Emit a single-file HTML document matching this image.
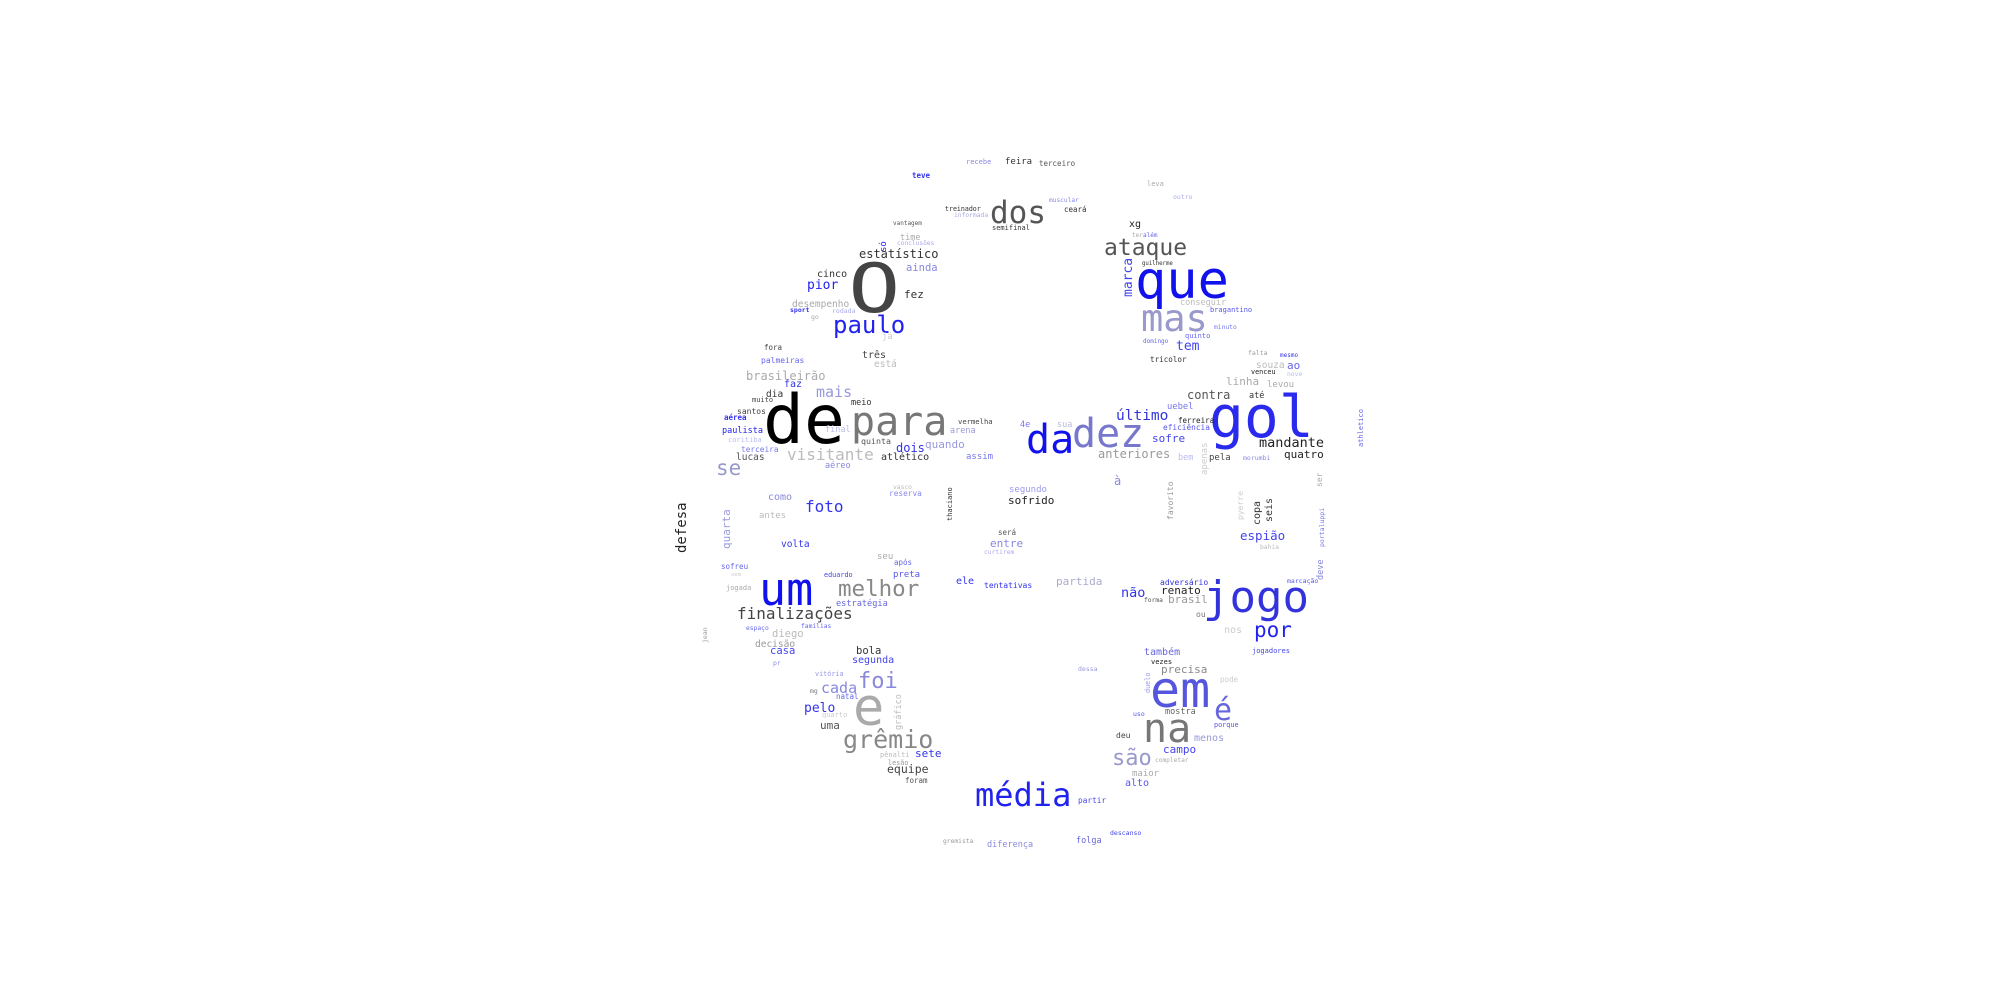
<!DOCTYPE html>
<html><head><meta charset="utf-8"><style>
html,body{margin:0;padding:0;background:#fff;}
svg{display:block;}
text{font-family:"DejaVu Sans Mono","Liberation Mono",monospace;}
</style></head><body>
<svg width="2000" height="1000" viewBox="0 0 2000 1000">
<g>
<text transform="translate(852,312) scale(1.27,1)" x="-3" y="0" font-size="68" fill="#444">O</text>
<text x="833" y="333" font-size="24" fill="#2222ee">paulo</text>
<text x="763" y="443" font-size="68" fill="#000">de</text>
<text x="851" y="435" font-size="40" fill="#777">para</text>
<text x="716" y="475" font-size="21" fill="#9999cc">se</text>
<text x="787" y="460" font-size="16" fill="#bbb">visitante</text>
<text x="816" y="397" font-size="15" fill="#9999dd">mais</text>
<text x="746" y="380" font-size="12" fill="#aaa">brasileirão</text>
<text x="859" y="258" font-size="12" fill="#333">estatístico</text>
<text x="807" y="289" font-size="13" fill="#2222ee">pior</text>
<text x="817" y="277" font-size="10" fill="#333">cinco</text>
<text x="906" y="271" font-size="10.5" fill="#8888dd">ainda</text>
<text x="904" y="298" font-size="11" fill="#333">fez</text>
<text x="792" y="307" font-size="9.5" fill="#aaa">desempenho</text>
<text x="790" y="312" font-size="6.5" fill="#3333ee" font-weight="bold">sport</text>
<text x="832" y="313" font-size="6.5" fill="#aaaaee">rodada</text>
<text x="811" y="319" font-size="6.5" fill="#aaa">go</text>
<text x="882" y="339" font-size="9" fill="#ccc">já</text>
<text transform="translate(886,252) rotate(-90)" font-size="9" fill="#2222ee">só</text>
<text x="900" y="240" font-size="8.5" fill="#aaa">time</text>
<text x="897" y="245" font-size="6.2" fill="#aaaaee">conclusões</text>
<text x="893" y="225" font-size="6" fill="#555">vantagem</text>
<text x="945" y="211" font-size="6.6" fill="#333">treinador</text>
<text x="954" y="217" font-size="6.3" fill="#aaaadd">informada</text>
<text x="990" y="223" font-size="31" fill="#555">dos</text>
<text x="992" y="230" font-size="7" fill="#333">semifinal</text>
<text x="966" y="164" font-size="7" fill="#8888dd">recebe</text>
<text x="1005" y="164" font-size="9" fill="#333">feira</text>
<text x="912" y="178" font-size="7.5" fill="#3333ee" font-weight="bold">teve</text>
<text x="1039" y="166" font-size="7.5" fill="#555">terceiro</text>
<text x="1147" y="186" font-size="7" fill="#aaa">leva</text>
<text x="1173" y="199" font-size="6.5" fill="#aaaaee">outro</text>
<text x="1049" y="202" font-size="6.2" fill="#8888ee">muscular</text>
<text x="1064" y="212" font-size="7.5" fill="#333">ceará</text>
<text x="1129" y="227" font-size="10" fill="#222">xg</text>
<text x="1132" y="237" font-size="6" fill="#aaa">ter</text>
<text x="1143" y="237" font-size="6" fill="#6666ee">além</text>
<text x="1104" y="255" font-size="23" fill="#555">ataque</text>
<text x="1142" y="265" font-size="5.7" fill="#333">guilherme</text>
<text transform="translate(1132,297) rotate(-90)" font-size="13" fill="#4444ee">marca</text>
<text x="1135" y="298" font-size="52" fill="#1111ee">que</text>
<text x="1141" y="331" font-size="37" fill="#9999cc">mas</text>
<text x="1180" y="305" font-size="8.5" fill="#bbb">conseguir</text>
<text x="1210" y="312" font-size="7" fill="#5555ee">bragantino</text>
<text x="1214" y="329" font-size="6.3" fill="#7777ee">minuto</text>
<text x="1185" y="338" font-size="7" fill="#6666ee">quinto</text>
<text x="1143" y="343" font-size="6" fill="#6666ee">domingo</text>
<text x="1176" y="350" font-size="13" fill="#4444ee">tem</text>
<text x="1150" y="362" font-size="7.6" fill="#333">tricolor</text>
<text x="1248" y="355" font-size="6.5" fill="#999">falta</text>
<text x="1280" y="357" font-size="6" fill="#3333ee">mesmo</text>
<text x="1256" y="368" font-size="9.5" fill="#bbb">souza</text>
<text x="1287" y="369" font-size="11" fill="#6666ee">ao</text>
<text x="1251" y="374" font-size="6.8" fill="#222">venceu</text>
<text x="1287" y="376" font-size="6.3" fill="#bbbbee">nove</text>
<text x="1226" y="385" font-size="11" fill="#aaa">linha</text>
<text x="1267" y="387" font-size="9" fill="#aaa">levou</text>
<text x="1187" y="399" font-size="12" fill="#555">contra</text>
<text x="1249" y="398" font-size="8.5" fill="#333">até</text>
<text x="1209" y="437" font-size="58" fill="#2a2aee">gol</text>
<text x="1116" y="420" font-size="14.5" fill="#3333dd">último</text>
<text x="1167" y="409" font-size="8.8" fill="#7777ee">uebel</text>
<text x="1178" y="423" font-size="7.5" fill="#222">ferreira</text>
<text x="1163" y="430" font-size="7.8" fill="#5555ee">eficiência</text>
<text x="1072" y="447" font-size="40" fill="#7777cc">dez</text>
<text x="1026" y="453" font-size="40" fill="#1111ee">da</text>
<text x="1020" y="427" font-size="8.5" fill="#7777ee">4e</text>
<text x="1057" y="427" font-size="8.5" fill="#bbbbdd">sua</text>
<text x="1152" y="442" font-size="11" fill="#4444ee">sofre</text>
<text x="1259" y="447" font-size="13.5" fill="#222">mandante</text>
<text x="1098" y="458" font-size="12" fill="#999">anteriores</text>
<text x="1178" y="460" font-size="8.5" fill="#bbbbee">bem</text>
<text x="1209" y="460" font-size="9" fill="#444">pela</text>
<text x="1243" y="460" font-size="6.5" fill="#8888ee">morumbi</text>
<text x="1284" y="458" font-size="11" fill="#222">quatro</text>
<text transform="translate(1207,475) rotate(-90)" font-size="9" fill="#ccc">apenas</text>
<text transform="translate(1363,447) rotate(-90)" font-size="7" fill="#6666ee">athletico</text>
<text transform="translate(1322,487) rotate(-90)" font-size="8" fill="#aaa">ser</text>
<text x="1114" y="485" font-size="12" fill="#8888dd">à</text>
<text transform="translate(1173,520) rotate(-90)" font-size="8" fill="#999">favorito</text>
<text transform="translate(1243,520) rotate(-90)" font-size="8" fill="#ccc">pyerre</text>
<text transform="translate(1260,525) rotate(-90)" font-size="10" fill="#333">copa</text>
<text transform="translate(1272,522) rotate(-90)" font-size="10" fill="#333">seis</text>
<text transform="translate(1324,547) rotate(-90)" font-size="6.5" fill="#7777ee">portaluppi</text>
<text x="1240" y="540" font-size="12.5" fill="#4444ee">espião</text>
<text x="1260" y="549" font-size="6.3" fill="#bbb">bahia</text>
<text transform="translate(1323,580) rotate(-90)" font-size="8.5" fill="#8888dd">deve</text>
<text x="1287" y="583" font-size="6.5" fill="#5555ee">marcação</text>
<text x="1160" y="585" font-size="8" fill="#3333dd">adversário</text>
<text x="1203" y="612" font-size="44" fill="#3333dd">jogo</text>
<text x="1121" y="597" font-size="13.5" fill="#3333ee">não</text>
<text x="1161" y="594" font-size="11" fill="#222">renato</text>
<text x="1144" y="602" font-size="6.3" fill="#555">forma</text>
<text x="1168" y="603" font-size="11" fill="#999">brasil</text>
<text x="1196" y="617" font-size="8" fill="#777">ou</text>
<text x="1224" y="633" font-size="10" fill="#ccc">nos</text>
<text x="1254" y="637" font-size="21" fill="#2222ee">por</text>
<text x="1144" y="655" font-size="10" fill="#6666dd">também</text>
<text x="1252" y="653" font-size="7" fill="#4444dd">jogadores</text>
<text x="1151" y="664" font-size="7" fill="#222">vezes</text>
<text x="1161" y="673" font-size="11" fill="#888">precisa</text>
<text x="1220" y="682" font-size="7.5" fill="#ccc">pode</text>
<text x="1078" y="671" font-size="6.5" fill="#9999dd">dessa</text>
<text transform="translate(1150,693) rotate(-90)" font-size="6.8" fill="#9999ee">duelo</text>
<text x="1150" y="707" font-size="50" fill="#5555dd">em</text>
<text x="1214" y="720" font-size="30" fill="#6666dd">é</text>
<text x="1165" y="714" font-size="8.5" fill="#666">mostra</text>
<text x="1133" y="716" font-size="6.5" fill="#5555ee">uso</text>
<text x="1214" y="727" font-size="6.8" fill="#5555ee">porque</text>
<text x="1143" y="742" font-size="40" fill="#777">na</text>
<text x="1194" y="741" font-size="10" fill="#9999dd">menos</text>
<text x="1116" y="738" font-size="8" fill="#444">deu</text>
<text x="1163" y="753" font-size="11" fill="#4444ee">campo</text>
<text x="1112" y="765" font-size="22" fill="#9999cc">são</text>
<text x="1155" y="762" font-size="6.2" fill="#aaa">completar</text>
<text x="1132" y="776" font-size="9" fill="#aaa">maior</text>
<text x="1125" y="786" font-size="10" fill="#5555ee">alto</text>
<text x="975" y="806" font-size="32" fill="#2222ee">média</text>
<text x="1078" y="803" font-size="7.8" fill="#4444ee">partir</text>
<text x="1110" y="835" font-size="6.5" fill="#4444ee">descanso</text>
<text x="1076" y="843" font-size="8.5" fill="#6666dd">folga</text>
<text x="987" y="847" font-size="8.5" fill="#8888dd">diferença</text>
<text x="943" y="843" font-size="6.3" fill="#999">gremista</text>
<text x="958" y="424" font-size="7.2" fill="#444">vermelha</text>
<text x="950" y="433" font-size="8.5" fill="#9999dd">arena</text>
<text x="861" y="444" font-size="8.3" fill="#555">quinta</text>
<text x="825" y="432" font-size="8.5" fill="#bbbbee">final</text>
<text x="896" y="452" font-size="12" fill="#3333ee">dois</text>
<text x="925" y="448" font-size="11" fill="#9999dd">quando</text>
<text x="881" y="460" font-size="10" fill="#333">atlético</text>
<text x="966" y="459" font-size="9" fill="#7777ee">assim</text>
<text x="893" y="489" font-size="6.3" fill="#bbb">vasco</text>
<text x="889" y="496" font-size="7.8" fill="#8888ee">reserva</text>
<text transform="translate(952,521) rotate(-90)" font-size="7" fill="#333">thaciano</text>
<text x="1009" y="492" font-size="9" fill="#9999ee">segundo</text>
<text x="1008" y="504" font-size="11" fill="#222">sofrido</text>
<text x="998" y="535" font-size="7.5" fill="#555">será</text>
<text x="990" y="547" font-size="11" fill="#8888dd">entre</text>
<text x="984" y="554" font-size="6.3" fill="#aaaaee">curtirem</text>
<text x="877" y="559" font-size="9" fill="#aaa">seu</text>
<text x="894" y="565" font-size="7.5" fill="#6666ee">após</text>
<text x="893" y="577" font-size="9" fill="#5555ee">preta</text>
<text x="956" y="584" font-size="10" fill="#3333ee">ele</text>
<text x="984" y="588" font-size="8" fill="#3333ee">tentativas</text>
<text x="1056" y="585" font-size="11" fill="#aaaacc">partida</text>
<text x="764" y="350" font-size="7.5" fill="#444">fora</text>
<text x="761" y="363" font-size="8" fill="#6666ee">palmeiras</text>
<text x="862" y="358" font-size="10" fill="#444">três</text>
<text x="874" y="367" font-size="9.5" fill="#bbb">está</text>
<text x="784" y="387" font-size="10" fill="#3333ee">faz</text>
<text x="766" y="397" font-size="9.5" fill="#333">dia</text>
<text x="752" y="402" font-size="7" fill="#444">muito</text>
<text x="851" y="405" font-size="8.5" fill="#333">meio</text>
<text x="737" y="414" font-size="8" fill="#444">santos</text>
<text x="724" y="420" font-size="7.5" fill="#3333ee" font-weight="bold">aérea</text>
<text x="722" y="433" font-size="8.5" fill="#2222ee">paulista</text>
<text x="728" y="442" font-size="7" fill="#bbbbee">coritiba</text>
<text x="741" y="452" font-size="7.8" fill="#7777ee">terceira</text>
<text x="736" y="460" font-size="9.5" fill="#555">lucas</text>
<text x="825" y="468" font-size="8.5" fill="#8888dd">aéreo</text>
<text x="768" y="500" font-size="10" fill="#8888dd">como</text>
<text x="805" y="512" font-size="16" fill="#3333ee">foto</text>
<text x="759" y="518" font-size="9" fill="#bbb">antes</text>
<text transform="translate(686,553) rotate(-90)" font-size="14" fill="#222">defesa</text>
<text transform="translate(730,549) rotate(-90)" font-size="11" fill="#9999dd">quarta</text>
<text x="781" y="547" font-size="9.5" fill="#3333ee">volta</text>
<text x="721" y="569" font-size="7.5" fill="#6666ee">sofreu</text>
<text x="731" y="576" font-size="5.5" fill="#ccc">sem</text>
<text x="726" y="590" font-size="7" fill="#aaa">jogada</text>
<text x="824" y="577" font-size="6.8" fill="#4444ee">eduardo</text>
<text x="759" y="605" font-size="45" fill="#1111ee">um</text>
<text x="838" y="596" font-size="22.5" fill="#888">melhor</text>
<text x="836" y="606" font-size="8.6" fill="#6666dd">estratégia</text>
<text x="737" y="619" font-size="16" fill="#444">finalizações</text>
<text x="746" y="630" font-size="6.3" fill="#6666ee">espaço</text>
<text x="801" y="628" font-size="6.3" fill="#6666ee">famílias</text>
<text x="772" y="637" font-size="10.5" fill="#bbb">diego</text>
<text transform="translate(707,643) rotate(-90)" font-size="6.5" fill="#999">jean</text>
<text x="755" y="647" font-size="9.5" fill="#999">decisão</text>
<text x="770" y="654" font-size="10.5" fill="#4444ee">casa</text>
<text x="856" y="654" font-size="10.5" fill="#333">bola</text>
<text x="852" y="663" font-size="10" fill="#4444ee">segunda</text>
<text x="773" y="665" font-size="6.5" fill="#8888ee">pr</text>
<text x="815" y="676" font-size="6.8" fill="#9999ee">vitória</text>
<text x="858" y="688" font-size="22" fill="#8888dd">foi</text>
<text x="821" y="693" font-size="15" fill="#8888dd">cada</text>
<text x="810" y="693" font-size="6.5" fill="#777">mg</text>
<text x="836" y="699" font-size="7.5" fill="#6666ee">natal</text>
<text x="804" y="712" font-size="13" fill="#3333ee">pelo</text>
<text x="853" y="725" font-size="52" fill="#aaa">e</text>
<text x="822" y="717" font-size="7" fill="#ccc">quarto</text>
<text transform="translate(901,730) rotate(-90)" font-size="8.5" fill="#bbb">gráfico</text>
<text x="820" y="729" font-size="11" fill="#555">uma</text>
<text x="843" y="748" font-size="25" fill="#888">grêmio</text>
<text x="880" y="757" font-size="7" fill="#bbb">pênalti</text>
<text x="915" y="757" font-size="11" fill="#3333ee">sete</text>
<text x="888" y="765" font-size="6.8" fill="#999">lesão</text>
<text x="887" y="773" font-size="11.5" fill="#444">equipe</text>
<text x="905" y="783" font-size="7.5" fill="#555">foram</text>
</g>
</svg>
</body></html>
